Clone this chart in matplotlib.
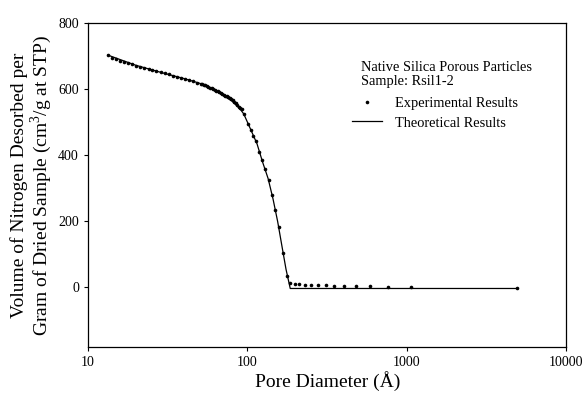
import matplotlib
matplotlib.use("Agg")
import matplotlib.pyplot as plt
from matplotlib.lines import Line2D

plt.rcParams['font.family'] = ['Liberation Serif', 'DejaVu Serif']
plt.rcParams['mathtext.fontset'] = 'custom'
plt.rcParams['mathtext.rm'] = 'Liberation Serif'

# Experimental data (pore diameter in Å, volume cm3/g)
exp_d = [13.3, 14.2, 15.0, 15.9, 16.9, 17.9, 19.0, 20.1, 21.3, 22.6, 24.0, 25.4,
         26.9, 28.6, 30.3, 32.1, 34.0, 36.1, 38.2, 40.5, 43.0, 45.5, 48.3, 51.2,
         52.3, 53.4, 54.6, 55.8, 57.0, 58.3, 59.6, 60.9, 62.3, 63.6, 65.1, 66.5,
         68.0, 69.5, 71.0, 72.6, 74.2, 75.8, 77.5, 79.2, 80.9, 82.8, 84.6, 86.4,
         88.4, 90.3, 92.3,
         95.7, 101, 105, 108.7, 113, 118.7, 123, 129.5, 136, 142, 150, 157, 168, 177,
         186, 200, 212, 230, 250, 279, 310, 352, 405, 478, 589, 759, 1071, 4898]
exp_v = [703, 695, 690, 686, 682, 678, 675, 671, 668, 665, 661, 658,
         655, 651, 648, 645, 641, 638, 634, 631, 627, 624, 620, 617,
         615, 613, 611, 608, 606, 604, 602, 600, 597, 595, 593, 590,
         588, 586, 583, 580, 578, 575, 572, 569, 566, 562, 557, 552,
         547, 543, 539,
         525, 495, 476, 459, 443, 411, 385, 358, 325, 281, 235, 182, 104, 35,
         14, 11, 10, 9, 9, 8, 7, 6, 5, 4, 3, 2, 1, -2]

# Theoretical curve
theo_d = [13.3, 20, 30, 40, 50, 60, 70, 80, 90, 95, 105, 115, 125, 135, 145,
          155, 165, 175, 186, 4900]
theo_v = [703, 672, 648, 632, 618, 601, 582, 564, 540, 525, 478, 435, 378, 330,
          268, 200, 125, 55, -3, -3]

x_ticks = [10, 100, 1000, 10000]
x_ticklabels = ['10', '100', '1000', '10000']
y_ticks = [0, 200, 400, 600, 800]

fig = plt.figure(figsize=(5.84, 4.0), dpi=100)
ax = fig.add_axes([0.1507, 0.1325, 0.8183, 0.81])

ax.plot(theo_d, theo_v, color='black', lw=0.9)
ax.plot(exp_d, exp_v, 'o', color='black', ms=2.6, mew=0)

ax.set_xscale('log')
ax.set_xlim(10, 10000)
ax.set_ylim(-180, 800)
ax.set_xticks(x_ticks)
ax.set_xticklabels(x_ticklabels)
ax.xaxis.set_minor_locator(matplotlib.ticker.NullLocator())
ax.set_yticks(y_ticks)
ax.tick_params(direction='out', length=3, width=0.8, labelsize=10, pad=3.5)
for s in ax.spines.values():
    s.set_linewidth(0.9)

fig.text(328 / 584, 1 - 381 / 400, 'Pore Diameter (Å)', fontsize=14,
         ha='center', va='center')
fig.text(32 / 584, 1 - 185 / 400,
         'Volume of Nitrogen Desorbed per\nGram of Dried Sample (cm$^3$/g at STP)',
         fontsize=14, ha='center', va='center', rotation=90, linespacing=1.0,
         multialignment='center')

ax.text(0.571, 0.841, 'Native Silica Porous Particles\nSample: Rsil1-2',
        transform=ax.transAxes, fontsize=10.4, va='center', ha='left', linespacing=1.05)

handles = [Line2D([], [], marker='o', ls='none', color='black', ms=2.6, mew=0),
           Line2D([], [], color='black', lw=0.9)]
ax.legend(handles, ['Experimental Results', 'Theoretical Results'],
          loc='upper left', bbox_to_anchor=(0.540, 0.79), frameon=False,
          fontsize=10.4, handlelength=2.1, handletextpad=0.9, labelspacing=0.45,
          borderaxespad=0)

fig.savefig('out.png', dpi=100)
